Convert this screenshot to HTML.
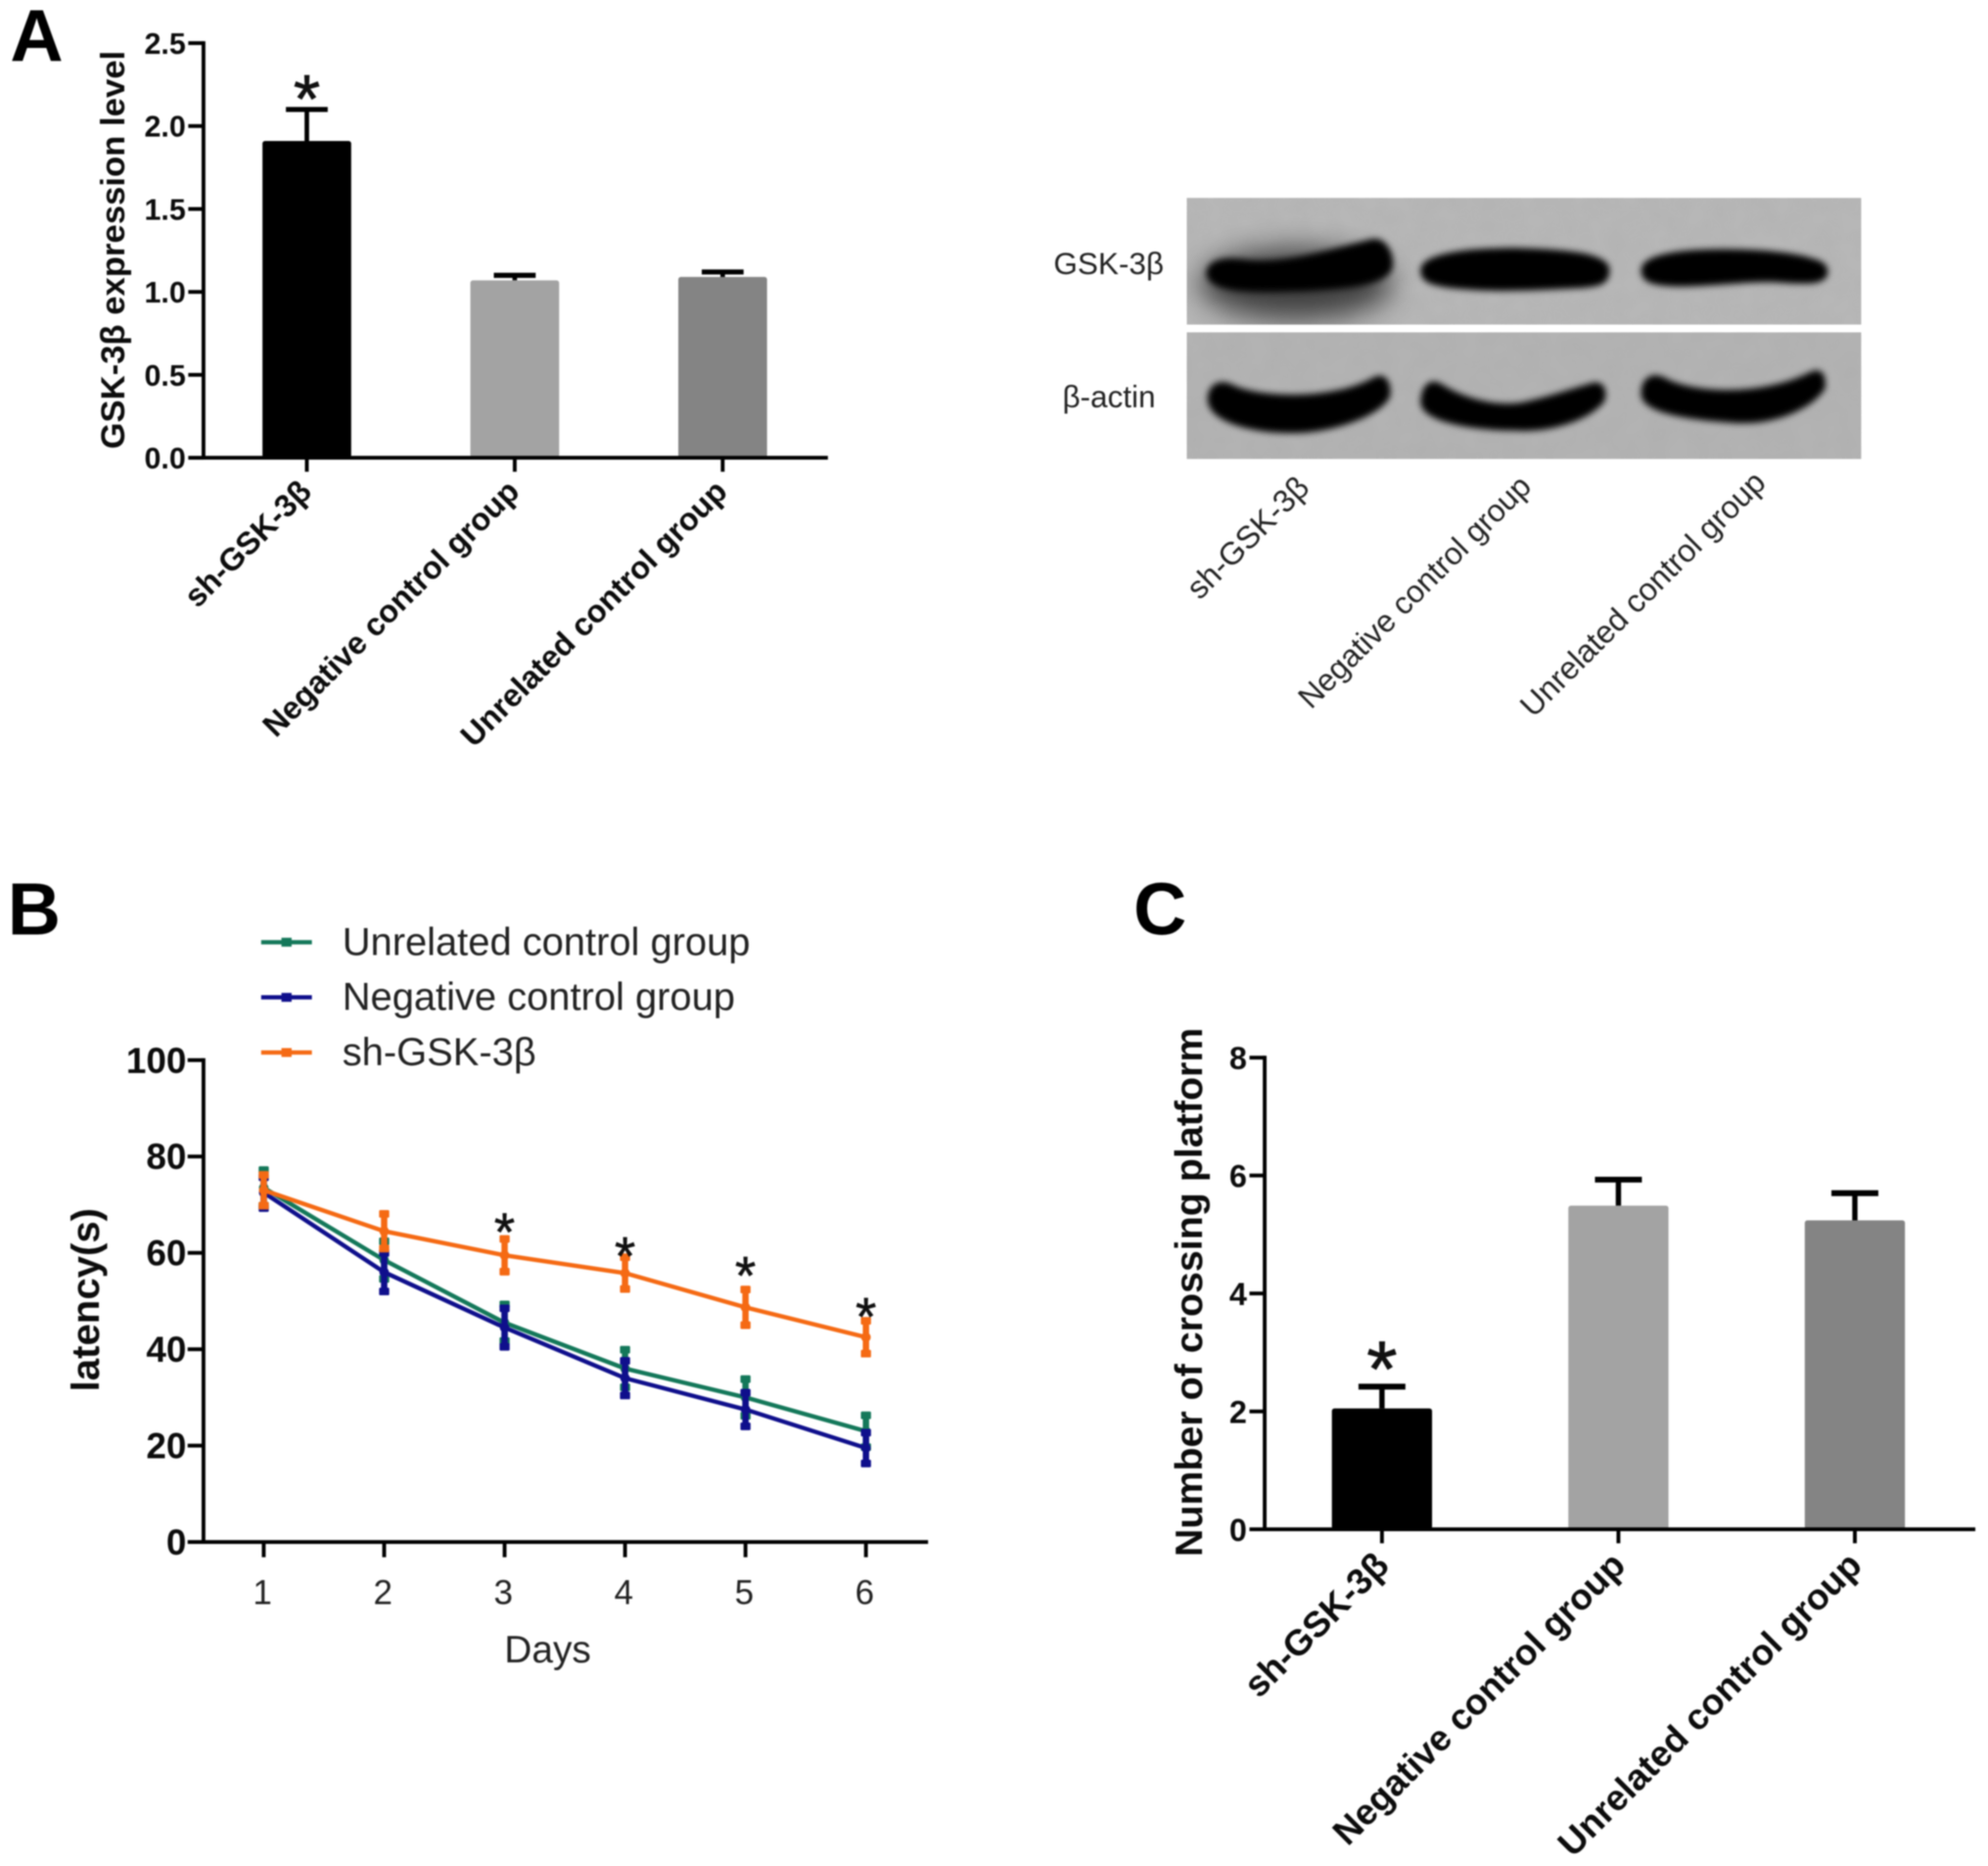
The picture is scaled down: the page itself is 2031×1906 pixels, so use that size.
<!DOCTYPE html>
<html lang="en">
<head>
<meta charset="utf-8">
<title>GSK-3β knockdown results</title>
<style>
html,body{margin:0;padding:0;background:#fff;width:2031px;height:1906px;overflow:hidden}
svg{display:block;filter:blur(0.9px)}
text{font-family:"Liberation Sans","DejaVu Sans",sans-serif}
.b{font-weight:bold;fill:#0c0c0c}
.r{fill:#222}
</style>
</head>
<body>
<svg id="fig" xmlns="http://www.w3.org/2000/svg" width="2031" height="1906" viewBox="0 0 1568 1471.5">
<defs>
<filter id="soft" x="-20%" y="-40%" width="140%" height="180%"><feGaussianBlur stdDeviation="2.6"/></filter>
<filter id="softer" x="-30%" y="-80%" width="160%" height="260%"><feGaussianBlur stdDeviation="11"/></filter>
<filter id="grain" x="0" y="0" width="100%" height="100%"><feTurbulence type="fractalNoise" baseFrequency="0.06" numOctaves="2" seed="4"/><feColorMatrix type="matrix" values="0 0 0 0 0.35  0 0 0 0 0.35  0 0 0 0 0.35  0.6 0 0 0 -0.18"/></filter>
<clipPath id="blot-top-clip"><rect x="936" y="156" width="532" height="100"/></clipPath>
<clipPath id="blot-bottom-clip"><rect x="936" y="262" width="532" height="100"/></clipPath>
</defs>
<rect width="1568" height="1471.5" fill="#fff"/>

<text x="8" y="48" font-size="58" font-weight="bold" fill="#000">A</text>
<text x="6" y="737" font-size="58" font-weight="bold" fill="#000">B</text>
<text x="894" y="737" font-size="58" font-weight="bold" fill="#000">C</text>

<g id="chartA"></g>
<text class="b" font-size="26.8" text-anchor="middle" transform="translate(98,197) rotate(-90)">GSK-3β expression level</text>

<g>
  <g clip-path="url(#blot-top-clip)">
    <rect x="936" y="156" width="532" height="100" fill="#b7b7b7"/>
    <rect x="936" y="156" width="532" height="100" filter="url(#grain)" opacity=".35"/>
    <ellipse cx="1022" cy="224" rx="76" ry="28" fill="#000" opacity=".65" filter="url(#softer)"/>
    <path filter="url(#soft)" fill="#000" stroke="#000" stroke-width="3" d="M953 215 C954 206 966 204 980 206 C1010 211 1050 198 1082 190 C1092 188 1098 200 1097 210 C1095 222 1070 226 1030 228 C995 229 953 231 953 215Z"/>
    <path filter="url(#soft)" fill="#000" stroke="#000" stroke-width="3" d="M1122 212 C1124 201 1160 197 1195 197 C1235 198 1268 201 1268 213 C1268 223 1262 225 1240 226 C1200 228 1170 229 1140 225 C1127 223 1121 220 1122 212Z"/>
    <path filter="url(#soft)" fill="#000" stroke="#000" stroke-width="3" d="M1296 212 C1298 202 1325 198 1360 198 C1395 198 1420 202 1428 205 C1437 207 1441 210 1440 216 C1438 223 1425 223 1400 221 C1375 220 1340 226 1315 224 C1301 223 1295 220 1296 212Z"/>
  </g>
  <g clip-path="url(#blot-bottom-clip)">
    <rect x="936" y="262" width="532" height="100" fill="#b3b3b3"/>
    <rect x="936" y="262" width="532" height="100" filter="url(#grain)" opacity=".35"/>
    <path filter="url(#soft)" fill="#000" stroke="#000" stroke-width="3" d="M954 316 C953 306 961 300 970 304 C990 315 1050 318 1084 299 C1092 295 1096 302 1095 312 C1088 327 1050 340 1020 340 C985 340 956 331 954 316Z"/>
    <path filter="url(#soft)" fill="#000" stroke="#000" stroke-width="3" d="M1122 318 C1122 307 1127 299 1136 304 C1155 316 1180 322 1200 319 C1225 314 1245 306 1258 303 C1265 303 1266 310 1264 316 C1253 329 1225 340 1195 338 C1160 338 1124 331 1122 318Z"/>
    <path filter="url(#soft)" fill="#000" stroke="#000" stroke-width="3" d="M1296 312 C1295 301 1302 294 1312 299 C1335 312 1390 314 1428 295 C1436 291 1439 296 1438 306 C1428 321 1400 334 1368 332 C1335 330 1298 325 1296 312Z"/>
  </g>
  <text class="r" font-size="24.3" x="831" y="216">GSK-3β</text>
  <text class="r" font-size="24.3" x="838" y="321">β-actin</text>
  <text class="r" font-size="25" text-anchor="end" transform="translate(1034,386) rotate(-45)">sh-GSK-3β</text>
  <text class="r" font-size="24.6" text-anchor="end" transform="translate(1209,385) rotate(-45)">Negative control group</text>
  <text class="r" font-size="25" text-anchor="end" transform="translate(1394,382) rotate(-45)">Unrelated control group</text>
</g>

<g id="chartB"></g>
<text class="b" font-size="31" text-anchor="middle" transform="translate(78,1025) rotate(-90)">latency(s)</text>
<text class="r" font-size="30" text-anchor="middle" x="432" y="1311">Days</text>

<g id="chartC"></g>
<text class="b" font-size="30.4" text-anchor="middle" transform="translate(948,1019) rotate(-90)">Number of crossing platform</text>
</svg>

<script>
const NS = 'http://www.w3.org/2000/svg';

/* Panel A data */
const barCategories = ['sh-GSK-3β', 'Negative control group', 'Unrelated control group'];
const expressionValues = [1.91, 1.07, 1.09];
const expressionErrors = [0.19, 0.03, 0.03];
const expressionTicks = ['0.0', '0.5', '1.0', '1.5', '2.0', '2.5'];
const expressionStars = [2.26];

/* Panel B data */
const days = ['1', '2', '3', '4', '5', '6'];
const latencyTicks = ['0', '20', '40', '60', '80', '100'];
const unrelatedLatency = [73.5, 58.5, 45.5, 36, 30, 23];
const unrelatedError = [3.7, 3.9, 3.8, 3.9, 3.8, 3.3];
const negativeLatency = [72.5, 56, 44.5, 34, 27.5, 19.5];
const negativeError = [3.2, 4, 4, 3.6, 3.5, 3.2];
const shLatency = [73, 64.5, 59.5, 55.8, 48.7, 42.5];
const shError = [3.2, 3.6, 3.4, 3.3, 3.7, 3.4];
const latencyStarLevels = [null, null, 65.8, 60.8, 56.8, 48.2];

/* Panel C data */
const crossingValues = [2.05, 5.49, 5.24];
const crossingErrors = [0.37, 0.44, 0.46];
const crossingTicks = ['0', '2', '4', '6', '8'];
const crossingStars = [3.03];

function mk(parent, tag, attrs, text) {
  const e = document.createElementNS(NS, tag);
  for (const k in attrs) e.setAttribute(k, attrs[k]);
  if (text !== undefined) e.textContent = text;
  parent.appendChild(e);
  return e;
}
function slug(s) { return s.toLowerCase().replace(/[^a-z0-9]+/g, '-'); }

function drawBars(root, o) {
  const y = v => o.y0 - (v / o.yMax) * (o.y0 - o.yTop);
  const x = i => o.x0 + i * o.step;
  const fills = ['#000000', '#a3a3a3', '#848484'];
  o.values.forEach((v, i) => {
    const bar = mk(root, 'rect', {x: x(i) - o.barW / 2, y: y(v), width: o.barW, height: o.y0 - y(v), rx: 2, fill: fills[i]});
    
    
    const top = y(v + o.errors[i]);
    const stem = mk(root, 'line', {x1: x(i), x2: x(i), y1: y(v), y2: top, stroke: '#000', 'stroke-width': o.errW});
    
    
    const cap = mk(root, 'line', {x1: x(i) - o.capW / 2, x2: x(i) + o.capW / 2, y1: top, y2: top, stroke: '#000', 'stroke-width': o.errW + 0.4});
    
    
    const tick = mk(root, 'line', {x1: x(i), x2: x(i), y1: o.y0, y2: o.y0 + 11, stroke: '#000', 'stroke-width': o.axisW});
    
    
    const lab = mk(root, 'text', {class: 'b', 'font-size': o.catSize, 'text-anchor': 'end', transform: 'translate(' + (x(i) + o.labDx) + ',' + (o.y0 + o.labDy) + ') rotate(-45)'}, o.cats[i]);
    
    
  });
  o.ticks.forEach((t, i) => {
    const yy = y(parseFloat(t));
    const tl = mk(root, 'line', {x1: o.axisX - 12, x2: o.axisX, y1: yy, y2: yy, stroke: '#000', 'stroke-width': o.axisW});
    
    
    const lb = mk(root, 'text', {class: 'b', 'font-size': o.tickSize, 'text-anchor': 'end', x: o.axisX - 14, y: yy + o.tickSize * 0.36}, t);
    
    
  });
  const ya = mk(root, 'line', {x1: o.axisX, x2: o.axisX, y1: o.yTop - 1.5, y2: o.y0 + 1.5, stroke: '#000', 'stroke-width': o.axisW});
  
  
  const xa = mk(root, 'line', {x1: o.axisX, x2: o.xEnd, y1: o.y0, y2: o.y0, stroke: '#000', 'stroke-width': o.axisW});
  
  
  o.stars.forEach((s, i) => {
    const st = mk(root, 'text', {'font-size': o.starSize, 'text-anchor': 'middle', x: x(i), y: y(s) + o.starSize * 0.575, fill: '#111', stroke: '#111', 'stroke-width': 0.6}, '*');
    
    
  });
}

drawBars(document.getElementById('chartA'), {
  cats: barCategories, values: expressionValues, errors: expressionErrors, ticks: expressionTicks, stars: expressionStars,
  yMax: 2.5, y0: 361, yTop: 34, x0: 242, step: 164, barW: 70, capW: 33, errW: 3.6,
  axisX: 160.5, xEnd: 653, axisW: 3, tickSize: 23.5, catSize: 25, labDx: 5, labDy: 28, starSize: 54
});
drawBars(document.getElementById('chartC'), {
  cats: barCategories, values: crossingValues, errors: crossingErrors, ticks: crossingTicks, stars: crossingStars,
  yMax: 8, y0: 1206, yTop: 834, x0: 1090, step: 186.5, barW: 79, capW: 37, errW: 4.2,
  axisX: 997.5, xEnd: 1558, axisW: 3, tickSize: 25, catSize: 28.5, labDx: 7, labDy: 30, starSize: 62
});

/* Panel B */
(function () {
  const root = document.getElementById('chartB');
  const y = v => 1216 - (v / 100) * 380;
  const x = i => 208 + i * 95;
  const series = [
    {name: 'Unrelated control group', vals: unrelatedLatency, errs: unrelatedError, color: '#14785a'},
    {name: 'Negative control group', vals: negativeLatency, errs: negativeError, color: '#0f0f8c'},
    {name: 'sh-GSK-3β', vals: shLatency, errs: shError, color: '#f56a14'}
  ];
  series.forEach((s, k) => {
    const g = mk(root, 'g', {});
    
    
    const ln = mk(g, 'polyline', {points: s.vals.map((v, i) => x(i) + ',' + y(v)).join(' '), fill: 'none', stroke: s.color, 'stroke-width': 3.4});
    
    
    s.vals.forEach((v, i) => {
      const bar = mk(g, 'line', {x1: x(i), x2: x(i), y1: y(v + s.errs[i]), y2: y(v - s.errs[i]), stroke: s.color, 'stroke-width': 5});
      
      
      [v + s.errs[i], v - s.errs[i]].forEach(e => {
        const cap = mk(g, 'rect', {x: x(i) - 4, y: y(e) - 3, width: 8, height: 6, rx: 1, fill: s.color});
        
        
      });
      const pt = mk(g, 'circle', {cx: x(i), cy: y(v), r: 3.8, fill: s.color});
      
      
    });
    const legendY = 743 + k * 43.5;
    const lg = mk(root, 'line', {x1: 206, x2: 246, y1: legendY, y2: legendY, stroke: s.color, 'stroke-width': 3.4});
    
    
    const lm = mk(root, 'rect', {x: 222, y: legendY - 3.5, width: 8, height: 7, fill: s.color});
    
    
    const lt = mk(root, 'text', {class: 'r', 'font-size': 30.8, x: 270, y: legendY + 10}, s.name);
    
    
  });
  days.forEach((d, i) => {
    const t = mk(root, 'line', {x1: x(i), x2: x(i), y1: 1216, y2: 1228, stroke: '#000', 'stroke-width': 3});
    
    
    const l = mk(root, 'text', {class: 'r', 'font-size': 27, 'text-anchor': 'middle', x: x(i) - 1, y: 1265}, d);
    
    
    if (latencyStarLevels[i] !== null) {
      const st = mk(root, 'text', {'font-size': 42, 'text-anchor': 'middle', x: x(i), y: y(latencyStarLevels[i]) + 20, fill: '#111', stroke: '#111', 'stroke-width': 0.5}, '*');
      
      
    }
  });
  latencyTicks.forEach(tk => {
    const yy = y(parseFloat(tk));
    const t = mk(root, 'line', {x1: 148, x2: 160, y1: yy, y2: yy, stroke: '#000', 'stroke-width': 3});
    
    
    const l = mk(root, 'text', {class: 'b', 'font-size': 28.5, 'text-anchor': 'end', x: 147, y: yy + 10}, tk);
    
    
  });
  const ya = mk(root, 'line', {x1: 160.5, x2: 160.5, y1: 834.5, y2: 1217.5, stroke: '#000', 'stroke-width': 3});
  
  
  const xa = mk(root, 'line', {x1: 160, x2: 732, y1: 1216, y2: 1216, stroke: '#000', 'stroke-width': 3});
  
  
})();
</script>
</body>
</html>
